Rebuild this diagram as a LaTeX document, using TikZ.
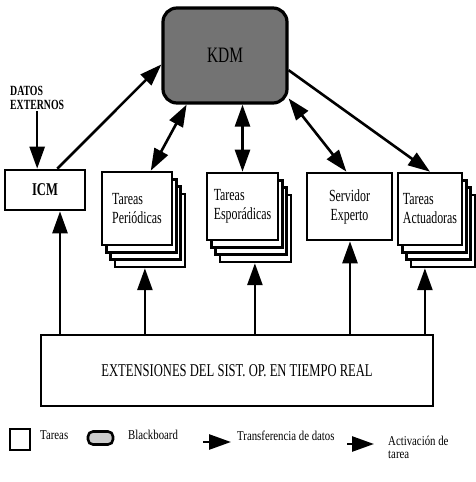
\documentclass[tikz,border=0pt]{standalone}
\usepackage{fontspec}
\setmainfont{Liberation Serif}
\newfontfamily\diafont[FakeStretch=0.7]{Liberation Serif}
\newfontfamily\legfont[FakeStretch=0.8]{Liberation Serif}
\usetikzlibrary{arrows.meta,calc}

\tikzset{
    taskbox/.style={draw, line width=2.6pt, fill=white, inner sep=2pt, align=left,
        font=\diafont\fontsize{17}{19}\selectfont},
    flow/.style={line width=2.6pt, -{Triangle[length=22pt,width=15pt]}},
    both/.style={line width=2.6pt, {Triangle[length=22pt,width=15pt]}-{Triangle[length=22pt,width=15pt]}},
    legtext/.style={font=\legfont\fontsize{13.5}{13}\selectfont, align=left, inner sep=0pt}
}

\begin{document}
\begin{tikzpicture}[x=1pt,y=-1pt]
    \useasboundingbox (0,0) rectangle (476,482);

    % Draw the blackboard
    \node[draw, line width=3.2pt, rounded corners=14pt, fill=black!55, minimum width=124pt,
        minimum height=95pt, font=\diafont\fontsize{22}{22}\selectfont] (kdm) at (225,55.5) {KDM};

    % Draw the ICM and the external data
    \node[taskbox, minimum width=80pt, minimum height=40pt,
        font=\diafont\bfseries\fontsize{18}{18}\selectfont] (icm) at (45,190) {ICM};
    \node[font=\diafont\bfseries\fontsize{14}{14}\selectfont, align=left, anchor=south west,
        inner sep=1pt] (ext) at (9,111) {DATOS\\EXTERNOS};
    \draw[flow] (ext.south) -- (ext.south |- icm.north);

    % Draw the task stacks
    \foreach \n/\x/\y/\w/\h/\txt in {per/137/208.5/70/73/{Tareas\\Periódicas},
        esp/242.5/206.5/71/67/{Tareas\\Esporádicas}, act/430/209/64/72/{Tareas\\Actuadoras}} {
        \foreach \k in {3,2,1}
            \node[taskbox, minimum width=\w pt, minimum height=\h pt] (\n\k) at (\x+4.3*\k, \y+7.3*\k) {};
        \node[taskbox, minimum width=\w pt, minimum height=\h pt] (\n) at (\x,\y) {\txt};
    }

    % Draw the expert server
    \node[taskbox, align=center, minimum width=85pt, minimum height=67pt] (srv) at (349.5,206.5) {Servidor\\Experto};

    % Draw the real time extensions
    \node[draw, line width=2.2pt, minimum width=392pt, minimum height=71pt,
        font=\diafont\fontsize{18}{18}\selectfont] (rtos) at (237,370.5) {EXTENSIONES DEL SIST. OP. EN TIEMPO REAL};

    % Draw the links to the blackboard
    \draw[flow] (icm.60) -- (kdm.188);
    \draw[both] (kdm.232) -- (per.70);
    \draw[both] (kdm.south -| esp.north) -- (esp.north);
    \draw[both] (kdm.326) -- (srv.95);
    \draw[flow] (kdm.347) -- (act.north);

    % Draw the task activations
    \foreach \n/\dx in {icm/15, per3/-5, esp3/-0.5, srv/0.5, act3/-18} {
        \coordinate (\n-in) at ($(\n.south)+(\dx,0)$);
        \draw[flow] (rtos.north -| \n-in) -- (\n-in);
    }

    % Draw the legend
    \node[draw, line width=2.6pt, minimum width=20pt, minimum height=21pt] (legtask) at (20,439.5) {};
    \node[legtext, anchor=west] (legtasktxt) at (40,435) {Tareas};
    \node[draw, line width=2.6pt, rounded corners=5pt, fill=black!20, minimum width=25pt,
        minimum height=13pt] (legbb) at (100.5,438) {};
    \node[legtext, anchor=west] (legbbtxt) at (128,434.5) {Blackboard};
    \coordinate (legdatA) at (203,442);
    \coordinate (legdatB) at (231,442);
    \draw[flow] (legdatA) -- (legdatB);
    \node[legtext, anchor=west] (legdattxt) at (237,435.5) {Transferencia de datos};
    \coordinate (legactA) at (347,444);
    \coordinate (legactB) at (374,444);
    \draw[flow] (legactA) -- (legactB);
    \node[legtext, anchor=north west] (legacttxt) at (388,436) {Activación de\\tarea};
\end{tikzpicture}
\end{document}
